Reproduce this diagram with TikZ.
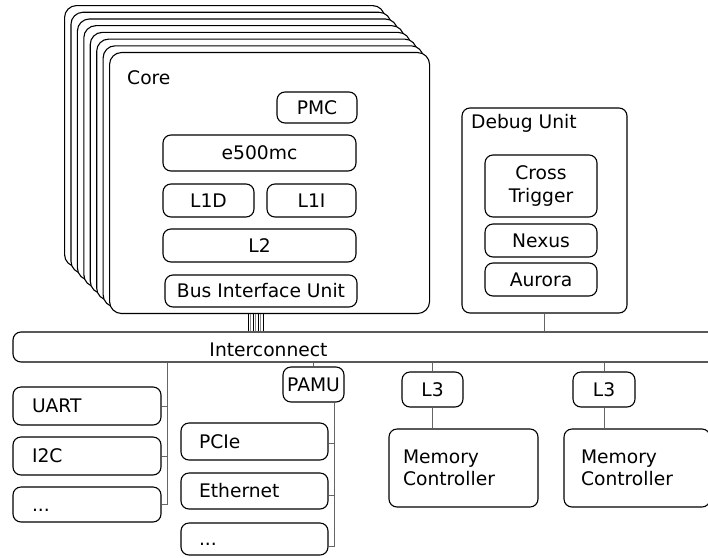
\documentclass[tikz,border=0pt]{standalone}
\usepackage{fontspec}
\setmainfont{DejaVu Sans}
\usetikzlibrary{calc}
\begin{document}
\begin{tikzpicture}[x=1pt,y=-1pt,
  txt/.style={font=\fontsize{18.7}{22.4}\selectfont},
  box/.style={draw, line width=1.1pt, rounded corners=8pt, fill=white, inner sep=0pt, txt},
  sbox/.style={box, text height=13.6pt, text depth=0pt},
  corebox/.style={draw, line width=1.1pt, rounded corners=12pt, fill=white, inner sep=0pt,
    minimum width=320pt, minimum height=261pt, anchor=north west},
  conn/.style={draw=black!60, line width=1pt},
  lbl/.style={inner sep=0pt, txt}]
\fill[white] (0,0) rectangle (708,557);
\useasboundingbox (0,0) rectangle (708,557);

% core stack
\foreach \i in {0,...,7}{
  \node[corebox] (core\i) at ({64+6.43*\i},{5+6.71*\i}) {};
}
\node[lbl, anchor=base west] (corelbl) at (127,84) {Core};
\node[sbox, minimum width=80pt, minimum height=31pt] (pmc) at (317,107.5) {PMC};
\node[sbox, minimum width=193pt, minimum height=36pt] (e500) at (259.5,153) {e500mc};
\node[sbox, minimum width=91pt, minimum height=33pt] (l1d) at (208.5,200.5) {L1D};
\node[sbox, minimum width=89pt, minimum height=33pt] (l1i) at (311.5,200.5) {L1I};
\node[sbox, minimum width=193pt, minimum height=33pt] (l2) at (259.5,245.5) {L2};
\node[sbox, minimum width=192pt, minimum height=32pt] (biu) at (261,291) {Bus Interface Unit};

% debug unit
\node[box, minimum width=165pt, minimum height=205pt] (debug) at (544.5,210.5) {};
\node[lbl, anchor=base west] (dbglbl) at (471,128) {Debug Unit};
\node[box, align=center, minimum width=112pt, minimum height=62pt] (ct) at (541,186) {Cross\\Trigger};
\node[sbox, minimum width=112pt, minimum height=33pt] (nexus) at (541,240.5) {Nexus};
\node[sbox, minimum width=112pt, minimum height=33pt] (aurora) at (541,279.5) {Aurora};

% interconnect
\node[box, minimum width=717pt, minimum height=30pt] (ic) at (371.5,347) {};
\node[lbl, anchor=base] (iclbl) at (268.5,356) {Interconnect};

% bus lines core -> interconnect
\foreach \x/\c in {248/black,250.5/black!45,253/black,255.5/black!45,258/black,260.5/black!45,263/black}{
  \draw[draw=\c, line width=0.8pt] (core7.south -| \x,0) -- (ic.north -| \x,0);
}
\draw[conn] (debug.south) -- (ic.north -| debug.south);

% left peripherals
\node[sbox, minimum width=148pt, minimum height=38pt, text width=110pt, inner xsep=19pt, align=left] (uart) at (87,406) {UART};
\node[sbox, minimum width=148pt, minimum height=38pt, text width=110pt, inner xsep=19pt, align=left] (i2c) at (87,456) {I2C};
\node[sbox, minimum width=148pt, minimum height=35pt, text width=110pt, inner xsep=19pt, align=left] (ldots) at (87,504.5) {...};
\coordinate (lb) at (167.5,0);
\draw[conn] (ic.south -| lb) |- (ldots.east);
\draw[conn] (uart.east) -- (uart.east -| lb);
\draw[conn] (i2c.east) -- (i2c.east -| lb);

% PAMU group
\node[sbox, minimum width=61pt, minimum height=35pt] (pamu) at (313.5,384.5) {PAMU};
\draw[conn] (ic.south -| pamu.north) -- (pamu.north);
\node[sbox, minimum width=147pt, minimum height=37pt, text width=111pt, inner xsep=18pt, align=left] (pcie) at (254.5,441.5) {PCIe};
\node[sbox, minimum width=147pt, minimum height=36pt, text width=111pt, inner xsep=18pt, align=left] (eth) at (254.5,491) {Ethernet};
\node[sbox, minimum width=147pt, minimum height=32pt, text width=111pt, inner xsep=18pt, align=left] (pdots) at (254.5,539) {...};
\coordinate (pb) at (334.5,0);
\draw[conn] (pamu.south -| pb) |- ([yshift=-7pt]pdots.east);
\draw[conn] ([yshift=-2pt]pcie.east) -- ([yshift=-2pt]pcie.east -| pb);
\draw[conn] ([yshift=-4pt]eth.east) -- ([yshift=-4pt]eth.east -| pb);

% L3 + memory controllers
\node[sbox, minimum width=61pt, minimum height=35pt] (l3a) at (432.5,389.5) {L3};
\node[box, minimum width=149pt, minimum height=78pt, text width=121pt, inner xsep=14pt, align=left] (mc1) at (463.5,468) {Memory\\Controller};
\node[sbox, minimum width=62pt, minimum height=35pt] (l3b) at (604,389.5) {L3};
\node[box, minimum width=146pt, minimum height=78pt, text width=112pt, inner xsep=17pt, align=left] (mc2) at (637,468) {Memory\\Controller};
\draw[conn] (ic.south -| l3a.north) -- (l3a.north);
\draw[conn] (l3a.south) -- (mc1.north -| l3a.south);
\draw[conn] (ic.south -| l3b.north) -- (l3b.north);
\draw[conn] (l3b.south) -- (mc2.north -| l3b.south);
\end{tikzpicture}
\end{document}
